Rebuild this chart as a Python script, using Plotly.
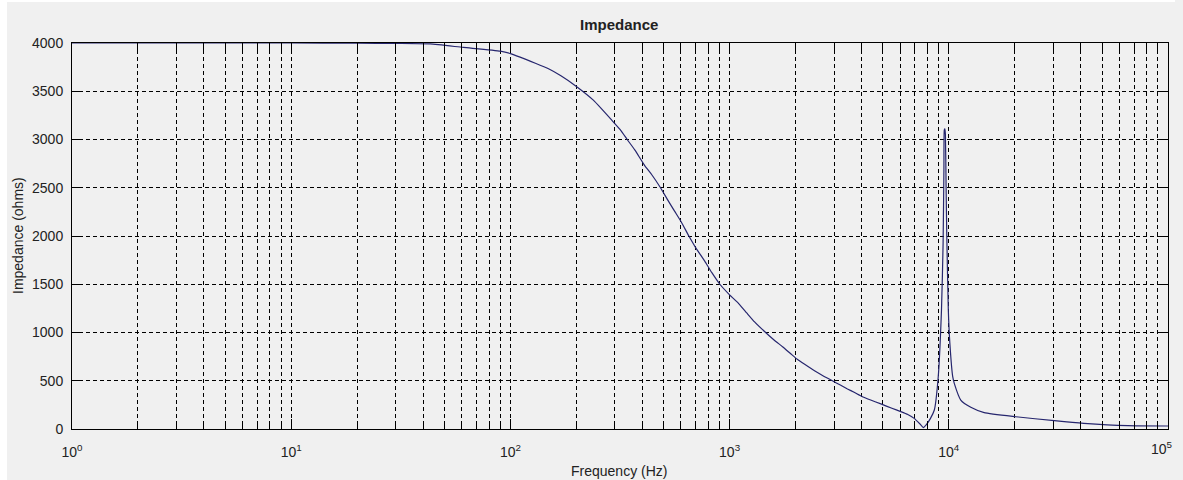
import plotly.graph_objects as go

# ---- data ----
freq_hz = [1, 3, 10, 20, 30, 43, 61, 90, 100, 130, 150, 170, 200, 239, 260, 290, 320,
           341, 370, 410, 440, 484, 520, 560, 600, 652, 700, 770, 830, 903, 1000, 1100,
           1200, 1300, 1460, 1600, 1750, 1900, 2037, 2200, 2450, 2700, 2944, 3200, 3450,
           3700, 4036, 4400, 4900, 5500, 6040, 6500, 6950, 7400, 7660, 7900, 8250, 8590,
           8950, 9260, 9420, 9500, 9540, 9600, 9650, 9720, 9790, 9950, 10110, 10420,
           10600, 11340, 12600, 14500, 20200, 30300, 41300, 65500, 100000]
impedance_ohms = [4000, 4000, 4000, 3998, 3995, 3990, 3954, 3916, 3890, 3790, 3730, 3660,
                  3550, 3408, 3320, 3200, 3090, 3000, 2890, 2730, 2640, 2500, 2380, 2260,
                  2150, 2000, 1880, 1740, 1620, 1500, 1390, 1300, 1200, 1110, 1000, 920,
                  850, 780, 722, 670, 600, 545, 500, 455, 415, 380, 335, 300, 260, 215,
                  180, 150, 110, 50, 15, 45, 110, 197, 542, 1233, 1927, 2700, 3100, 3110,
                  3050, 2500, 2010, 1233, 891, 542, 470, 300, 225, 170, 127, 86, 59, 35, 31]

x_major = [1, 10, 100, 1000, 10000, 100000]
x_major_text = ["10<sup>0</sup>", "10<sup>1</sup>", "10<sup>2</sup>",
                "10<sup>3</sup>", "10<sup>4</sup>", "10<sup>5</sup>"]
y_ticks = [0, 500, 1000, 1500, 2000, 2500, 3000, 3500, 4000]

title_text = "Impedance"
x_label = "Frequency (Hz)"
y_label = "Impedance (ohms)"

x_minor = [m * 10 ** k for k in range(5) for m in range(2, 10)]

FONT = "Liberation Sans, Arial, sans-serif"
GREY = "#f0f0f0"
W, H = 1175, 480
L, R, T, B = 72, 7, 43, 51
pw, ph = W - L - R, H - T - B

fig = go.Figure()
fig.add_trace(go.Scatter(
    x=freq_hz, y=impedance_ohms, mode="lines",
    line=dict(color="#26266e", width=1.2, shape="spline", smoothing=0.5),
    hoverinfo="x+y", showlegend=False))

axis_common = dict(
    showline=True, linecolor="black", linewidth=1, mirror="allticks",
    ticks="inside", ticklen=10, tickcolor="black", tickwidth=1,
    showgrid=True, gridcolor="black", gridwidth=1, griddash="4px,3px",
    zeroline=False, tickfont=dict(family=FONT, size=14, color="#222222"),
)

# the last decade label sits at the very right edge of the page, so it is drawn
# as an annotation anchored to the edge instead of a (clipped) tick label
x_tick_text = x_major_text[:-1] + [""]

fig.update_xaxes(
    type="log", range=[0, 5], tickmode="array", tickvals=x_major, ticktext=x_tick_text,
    minor=dict(tickmode="array", tickvals=x_minor, ticks="inside", ticklen=7,
               tickcolor="black", showgrid=True, gridcolor="black", gridwidth=1,
               griddash="4px,3px"),
    ticklabelstandoff=10,
    **axis_common)
fig.update_yaxes(
    range=[0, 4000], tickmode="array", tickvals=y_ticks,
    ticklabelstandoff=5,
    **axis_common)

# background: white strip at top/left, grey figure area
fig.add_shape(type="rect", xref="paper", yref="paper",
              x0=(7 - L) / pw, x1=(W + 20 - L) / pw, y0=-(H + 20 - T) / ph, y1=(H - T - 10) / ph,
              fillcolor=GREY, line=dict(width=0), layer="below")

fig.add_annotation(text=x_major_text[-1], xref="paper", yref="paper",
                   x=(W - L) / pw, y=(429 - 448) / ph, xanchor="right", yanchor="middle",
                   showarrow=False, font=dict(family=FONT, size=14, color="#222222"))

fig.add_annotation(text=f"<b>{title_text}</b>", xref="paper", yref="paper",
                   x=(619 - L) / pw, y=(429 - 24) / ph, xanchor="center", yanchor="middle",
                   showarrow=False, font=dict(family=FONT, size=15, color="#222222"))
fig.add_annotation(text=x_label, xref="paper", yref="paper",
                   x=(619 - L) / pw, y=(429 - 471) / ph, xanchor="center", yanchor="middle",
                   showarrow=False, font=dict(family=FONT, size=14, color="#222222"))
fig.add_annotation(text=y_label, xref="paper", yref="paper", textangle=-90,
                   x=(18 - L) / pw, y=0.5, xanchor="center", yanchor="middle",
                   showarrow=False, font=dict(family=FONT, size=14, color="#222222"))

fig.update_layout(
    width=W, height=H, margin=dict(l=L, r=R, t=T, b=B, pad=0),
    paper_bgcolor="white", plot_bgcolor="white", showlegend=False,
)

fig.write_html(
    "out.html",
    post_script="document.body.style.background='#f0f0f0';",
)
